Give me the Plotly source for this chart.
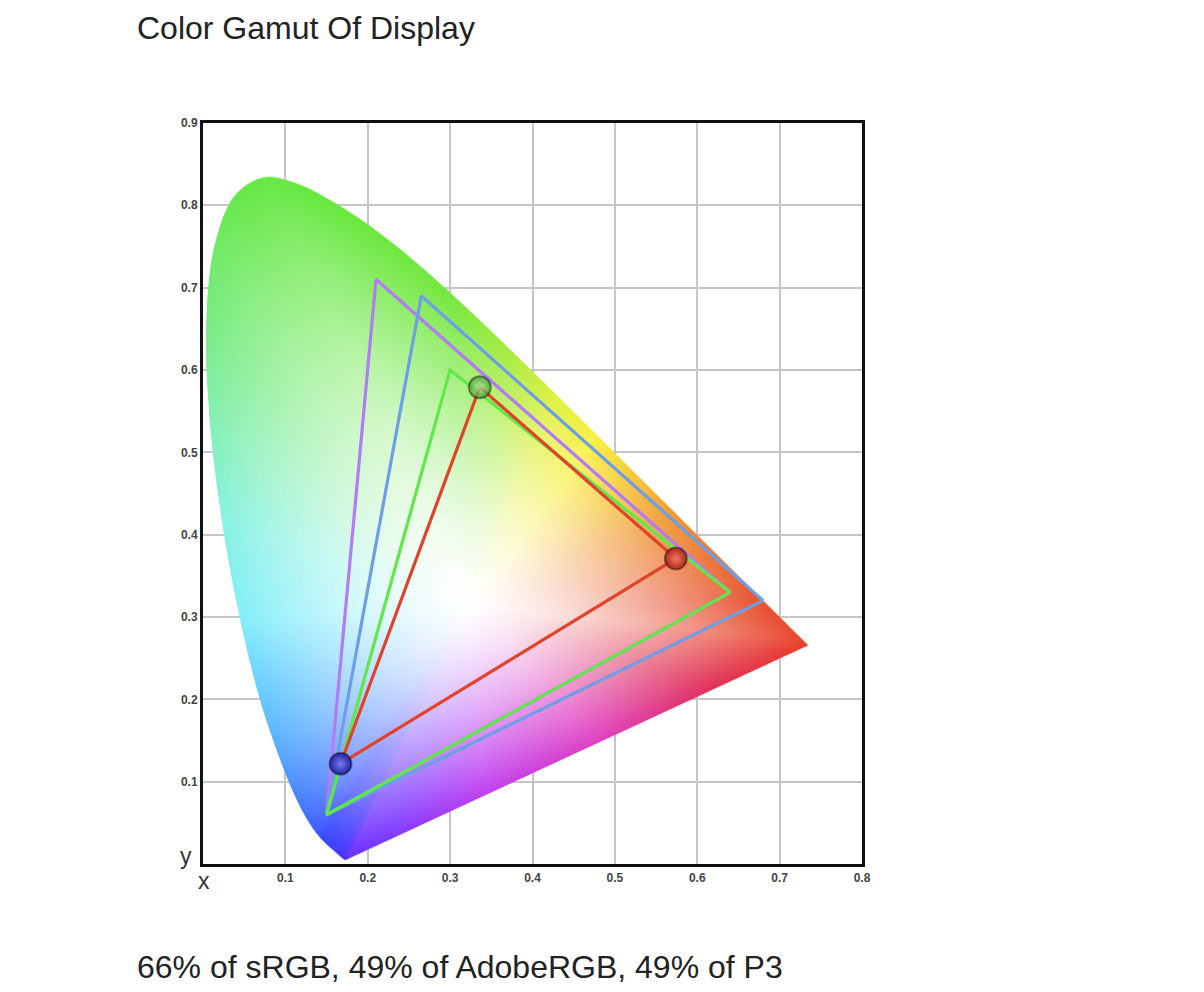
import base64
import struct
import zlib

import numpy as np
import plotly.graph_objects as go

# ---------------- data ----------------
# CIE 1931 2-degree spectral locus (chromaticity x, y), 380-700 nm every 5 nm
locus_wl = list(range(380, 705, 5))
locus_x = [0.1741, 0.1740, 0.1738, 0.1736, 0.1733, 0.1730, 0.1726, 0.1721, 0.1714, 0.1703,
           0.1689, 0.1669, 0.1644, 0.1611, 0.1566, 0.1510, 0.1440, 0.1355, 0.1241, 0.1096,
           0.0913, 0.0687, 0.0454, 0.0235, 0.0082, 0.0039, 0.0139, 0.0389, 0.0743, 0.1142,
           0.1547, 0.1929, 0.2296, 0.2658, 0.3016, 0.3373, 0.3731, 0.4087, 0.4441, 0.4788,
           0.5125, 0.5448, 0.5752, 0.6029, 0.6270, 0.6482, 0.6658, 0.6801, 0.6915, 0.7006,
           0.7079, 0.7140, 0.7190, 0.7230, 0.7260, 0.7283, 0.7300, 0.7311, 0.7320, 0.7327,
           0.7334, 0.7340, 0.7344, 0.7346, 0.7347]
locus_y = [0.0050, 0.0050, 0.0049, 0.0049, 0.0048, 0.0048, 0.0048, 0.0048, 0.0051, 0.0058,
           0.0069, 0.0086, 0.0109, 0.0138, 0.0177, 0.0227, 0.0297, 0.0399, 0.0578, 0.0868,
           0.1327, 0.2007, 0.2950, 0.4127, 0.5384, 0.6548, 0.7502, 0.8120, 0.8338, 0.8262,
           0.8059, 0.7816, 0.7543, 0.7243, 0.6923, 0.6589, 0.6245, 0.5896, 0.5547, 0.5202,
           0.4866, 0.4544, 0.4242, 0.3965, 0.3725, 0.3514, 0.3340, 0.3197, 0.3083, 0.2993,
           0.2920, 0.2859, 0.2809, 0.2770, 0.2740, 0.2717, 0.2700, 0.2689, 0.2680, 0.2673,
           0.2666, 0.2660, 0.2656, 0.2654, 0.2653]

# Gamut triangles (R, G, B primaries)
srgb_x = [0.64, 0.30, 0.15]
srgb_y = [0.33, 0.60, 0.06]
adobe_x = [0.64, 0.21, 0.15]
adobe_y = [0.33, 0.71, 0.06]
p3_x = [0.68, 0.265, 0.15]
p3_y = [0.32, 0.69, 0.06]
display_x = [0.574, 0.336, 0.167]
display_y = [0.371, 0.579, 0.122]

x_tickvals = [0.1, 0.2, 0.3, 0.4, 0.5, 0.6, 0.7, 0.8]
x_ticktext = ["0.1", "0.2", "0.3", "0.4", "0.5", "0.6", "0.7", "0.8"]
y_tickvals = [0.1, 0.2, 0.3, 0.4, 0.5, 0.6, 0.7, 0.8, 0.9]
y_ticktext = ["0.1", "0.2", "0.3", "0.4", "0.5", "0.6", "0.7", "0.8", "0.9"]

title_text = "Color Gamut Of Display"
coverage_text = "66% of sRGB, 49% of AdobeRGB, 49% of P3"

# ------------- background colour field (style only) -------------
# edge colours along the boundary: wavelength 380..700, then purple line 700..800
edge_p = [380, 430, 460, 475, 485, 490, 495, 500, 505, 515, 530, 550, 560, 568, 575,
          582, 590, 600, 615, 700, 720, 745, 770, 790, 800]
edge_hex = ["#6a30ff", "#4a30ff", "#3848ff", "#4a88ff", "#66c8ff", "#84eefa", "#88f2e4",
            "#84f0b4", "#78ec84", "#66e848", "#66e83c", "#74e83c", "#a8ec40", "#e0f040",
            "#f8f040", "#f8c838", "#f09830", "#ec7030", "#e85030", "#e83c28", "#e03058",
            "#e040c0", "#c040f0", "#8038ff", "#6a30ff"]


def hex_rgb(h):
    return [int(h[i:i + 2], 16) for i in (1, 3, 5)]


edge_rgb = np.array([hex_rgb(h) for h in edge_hex], dtype=float)


def centripetal_cr(P, n=16):
    """Smooth polyline through points P (centripetal Catmull-Rom)."""
    P = np.asarray(P, dtype=float)
    ext = np.vstack([2 * P[0] - P[1], P, 2 * P[-1] - P[-2]])
    out = []
    for i in range(1, len(ext) - 2):
        p0, p1, p2, p3 = ext[i - 1], ext[i], ext[i + 1], ext[i + 2]
        t0 = 0.0
        t1 = t0 + max(np.linalg.norm(p1 - p0), 1e-9) ** 0.5
        t2 = t1 + max(np.linalg.norm(p2 - p1), 1e-9) ** 0.5
        t3 = t2 + max(np.linalg.norm(p3 - p2), 1e-9) ** 0.5
        for t in np.linspace(t1, t2, n, endpoint=False):
            a1 = (t1 - t) / (t1 - t0) * p0 + (t - t0) / (t1 - t0) * p1
            a2 = (t2 - t) / (t2 - t1) * p1 + (t - t1) / (t2 - t1) * p2
            a3 = (t3 - t) / (t3 - t2) * p2 + (t - t2) / (t3 - t2) * p3
            b1 = (t2 - t) / (t2 - t0) * a1 + (t - t0) / (t2 - t0) * a2
            b2 = (t3 - t) / (t3 - t1) * a2 + (t - t1) / (t3 - t1) * a3
            out.append((t2 - t) / (t2 - t1) * b1 + (t - t1) / (t2 - t1) * b2)
    out.append(P[-1])
    return np.array(out)


n_sub = 16
smooth = centripetal_cr(np.column_stack([locus_x, locus_y]), n_sub)
wl = np.array(locus_wl, dtype=float)
sm_p = np.concatenate([np.linspace(wl[i], wl[i + 1], n_sub, endpoint=False)
                       for i in range(len(wl) - 1)] + [wl[-1:]])

WX, WY = 0.325, 0.315
npur = 400
f = np.arange(1, npur) / npur
pur_x = locus_x[-1] + f * (locus_x[0] - locus_x[-1])
pur_y = locus_y[-1] + f * (locus_y[0] - locus_y[-1])
bx = np.concatenate([smooth[:, 0], pur_x])
by = np.concatenate([smooth[:, 1], pur_y])
bp = np.concatenate([sm_p, 700 + 100 * f])
ba = np.arctan2(by - WY, bx - WX)
br = np.hypot(bx - WX, by - WY)
bc = np.stack([np.interp(bp, edge_p, edge_rgb[:, c]) for c in range(3)], axis=1)
order = np.argsort(ba)
ba, br, bc = ba[order], br[order], bc[order]

NX, NY = 659, 743                       # one image pixel per screen pixel
DX, DY = 0.8 / NX, 0.9 / NY
gx = (np.arange(NX) + 0.5) * DX
gy = (np.arange(NY) + 0.5) * DY          # row 0 = bottom (y = 0)
PX, PY = np.meshgrid(gx, gy)
pa = np.arctan2(PY - WY, PX - WX)
pr = np.hypot(PX - WX, PY - WY)
R = np.interp(pa, ba, br, period=2 * np.pi)
t = np.clip(pr / R, 0, 1)
s = t ** 1.4
img = np.zeros((NY, NX, 4), dtype=np.uint8)
for c in range(3):
    C = np.interp(pa, ba, bc[:, c], period=2 * np.pi)
    img[..., c] = np.clip(255 - s * (255 - C), 0, 255).astype(np.uint8)
alpha = np.clip((R - pr) / DX + 0.5, 0, 1)
img[..., 3] = (alpha * 255).astype(np.uint8)


def png_bytes(rgba):
    h, w, _ = rgba.shape
    raw = b"".join(b"\x00" + rgba[i].tobytes() for i in range(h))

    def chunk(tag, data):
        return (struct.pack(">I", len(data)) + tag + data
                + struct.pack(">I", zlib.crc32(tag + data) & 0xFFFFFFFF))

    ihdr = struct.pack(">IIBBBBB", w, h, 8, 6, 0, 0, 0)
    return (b"\x89PNG\r\n\x1a\n" + chunk(b"IHDR", ihdr)
            + chunk(b"IDAT", zlib.compress(raw, 9)) + chunk(b"IEND", b""))


src = "data:image/png;base64," + base64.b64encode(png_bytes(img)).decode()

# ---------------- figure ----------------
fig = go.Figure()
fig.add_trace(go.Image(source=src, x0=DX / 2, y0=DY / 2, dx=DX, dy=DY,
                       zsmooth="fast", hoverinfo="skip"))


def tri(xs, ys, color, name):
    fig.add_trace(go.Scatter(x=xs + xs[:1], y=ys + ys[:1], mode="lines", name=name,
                             line=dict(color=color, width=3.2), hoverinfo="skip",
                             showlegend=False))


tri(adobe_x, adobe_y, "#b27cf2", "AdobeRGB")
tri(p3_x, p3_y, "#6d9ee6", "P3")
tri(srgb_x, srgb_y, "#60e848", "sRGB")
tri(display_x, display_y, "#e0432a", "Display")

fig.add_trace(go.Scatter(
    x=display_x, y=display_y, mode="markers", showlegend=False, hoverinfo="skip",
    marker=dict(size=22,
                color=["rgba(175,35,20,0.95)", "rgba(70,150,45,0.75)", "rgba(30,30,160,0.95)"],
                gradient=dict(type="radial",
                              color=["rgba(245,120,100,0.95)", "rgba(180,235,160,0.75)",
                                     "rgba(120,120,245,0.95)"]),
                line=dict(color="rgba(20,20,20,0.45)", width=2))))

axis_common = dict(showgrid=True, gridcolor="#c6c6c6", gridwidth=2, zeroline=False,
                   showline=True, linecolor="#111111", linewidth=3, mirror=True, ticks="",
                   tickfont=dict(family="Liberation Sans", size=12, color="#444444",
                                 weight="bold"))
fig.update_xaxes(range=[0, 0.8], tickvals=x_tickvals, ticktext=x_ticktext,
                 autorange=False, **axis_common)
fig.update_yaxes(range=[0, 0.9], tickvals=y_tickvals, ticktext=y_ticktext,
                 autorange=False, **axis_common)

fig.update_layout(
    width=1188, height=976,
    margin=dict(l=195, r=334, t=114, b=119),
    paper_bgcolor="white", plot_bgcolor="white",
    font=dict(family="Liberation Sans", color="#222222"),
    annotations=[
        dict(text=title_text, xref="paper", yref="paper", x=-0.1032, y=1.1265,
             xanchor="left", yanchor="middle", showarrow=False,
             font=dict(size=32, color="#222222")),
        dict(text=coverage_text, xref="paper", yref="paper", x=-0.1032, y=-0.1373,
             xanchor="left", yanchor="middle", showarrow=False,
             font=dict(size=32, color="#222222")),
        dict(text="y", xref="paper", yref="paper", x=-0.026, y=0.012,
             xanchor="center", yanchor="middle", showarrow=False,
             font=dict(size=23, color="#333333")),
        dict(text="x", xref="paper", yref="paper", x=0.0015, y=-0.022,
             xanchor="center", yanchor="middle", showarrow=False,
             font=dict(size=23, color="#333333")),
    ],
)

fig.write_html("out.html")
